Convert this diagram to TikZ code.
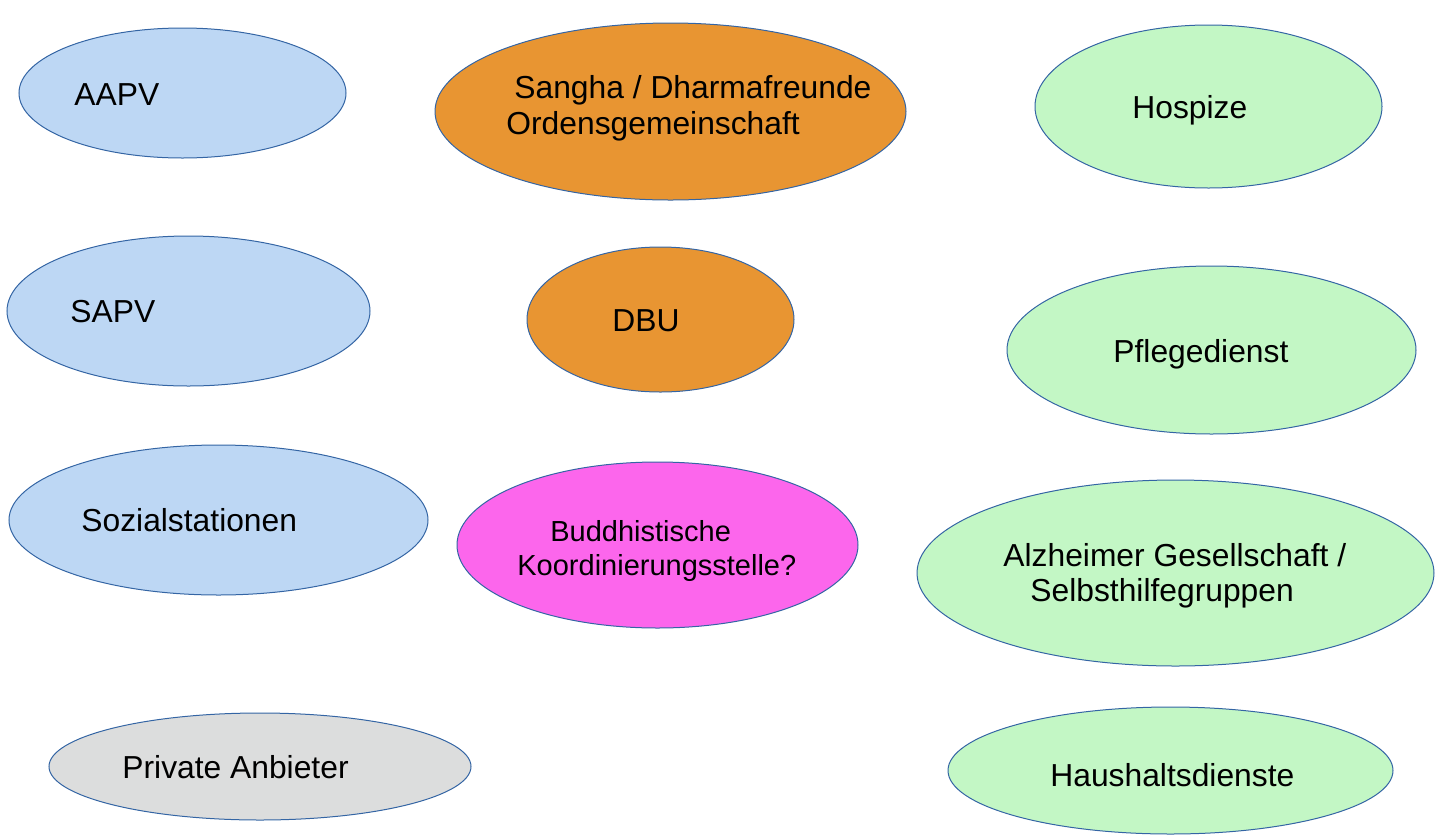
\documentclass[tikz,border=0pt]{standalone}
\usepackage{fontspec}
\setmainfont{Liberation Sans}
\usepackage{xcolor}
\usetikzlibrary{shapes.geometric}

% fill colours of the ellipses
\definecolor{careblue}{HTML}{BDD7F4}
\definecolor{sanghaorange}{HTML}{E89532}
\definecolor{helpgreen}{HTML}{C3F7C5}
\definecolor{coordpink}{HTML}{FC66EC}
\definecolor{privgray}{HTML}{DCDDDD}
\definecolor{rimblue}{HTML}{3465A4}

\tikzset{
  blob/.style={ellipse, draw=rimblue, line width=0.5pt, inner sep=0pt},
  word/.style={anchor=base west, inner sep=0pt, font=\fontsize{15.9}{18}\selectfont},
  smallword/.style={word, font=\fontsize{14.5}{17}\selectfont},
}

\begin{document}
\begin{tikzpicture}[x=0.5pt,y=-0.5pt]
\useasboundingbox (0,0) rectangle (1441,836);

% Left column (blue)
\node[blob, fill=careblue, minimum width=163.5pt, minimum height=65pt] (aapv) at (182.5,93) {};
\node[blob, fill=careblue, minimum width=181.5pt, minimum height=75pt] (sapv) at (188.5,311) {};
\node[blob, fill=careblue, minimum width=209.5pt, minimum height=75pt] (sozial) at (218.5,520) {};
\node[blob, fill=privgray, minimum width=211pt, minimum height=53.5pt] (privat) at (260,766.5) {};

% Middle column (buddhist side)
\node[blob, fill=sanghaorange, minimum width=235.5pt, minimum height=88.5pt] (sangha) at (670.5,111.5) {};
\node[blob, fill=sanghaorange, minimum width=133.5pt, minimum height=72.5pt] (dbu) at (660.5,319.5) {};
\node[blob, fill=coordpink, minimum width=200.5pt, minimum height=83pt] (koord) at (657.5,545) {};

% Right column (green)
\node[blob, fill=helpgreen, minimum width=173.5pt, minimum height=81.5pt] (hospize) at (1208.5,106.5) {};
\node[blob, fill=helpgreen, minimum width=204.5pt, minimum height=84pt] (pflege) at (1211.5,350) {};
\node[blob, fill=helpgreen, minimum width=258.5pt, minimum height=93pt] (alzheimer) at (1175.5,573) {};
\node[blob, fill=helpgreen, minimum width=222.5pt, minimum height=63.5pt] (haushalt) at (1170.5,770.5) {};

% Labels (left edge, baseline)
\node[word] (aapvtext) at (74,105) {AAPV};
\node[word] (sapvtext) at (70,322) {SAPV};
\node[word] (sozialtext) at (81,531) {Sozialstationen};
\node[word] (privattext) at (122,778) {Private Anbieter};

\node[word] (sanghatext) at (514,98) {Sangha / Dharmafreunde};
\node[word] (ordentext) at (506,134) {Ordensgemeinschaft};
\node[word] (dbutext) at (612,331) {DBU};
\node[smallword] (koordtexta) at (550,541) {Buddhistische};
\node[smallword] (koordtextb) at (517,575) {Koordinierungsstelle?};

\node[word] (hospizetext) at (1132,118) {Hospize};
\node[word] (pflegetext) at (1113,362) {Pflegedienst};
\node[word] (alztexta) at (1003,566) {Alzheimer Gesellschaft /};
\node[word] (alztextb) at (1030,601) {Selbsthilfegruppen};
\node[word] (haushalttext) at (1050,786) {Haushaltsdienste};

\end{tikzpicture}
\end{document}
